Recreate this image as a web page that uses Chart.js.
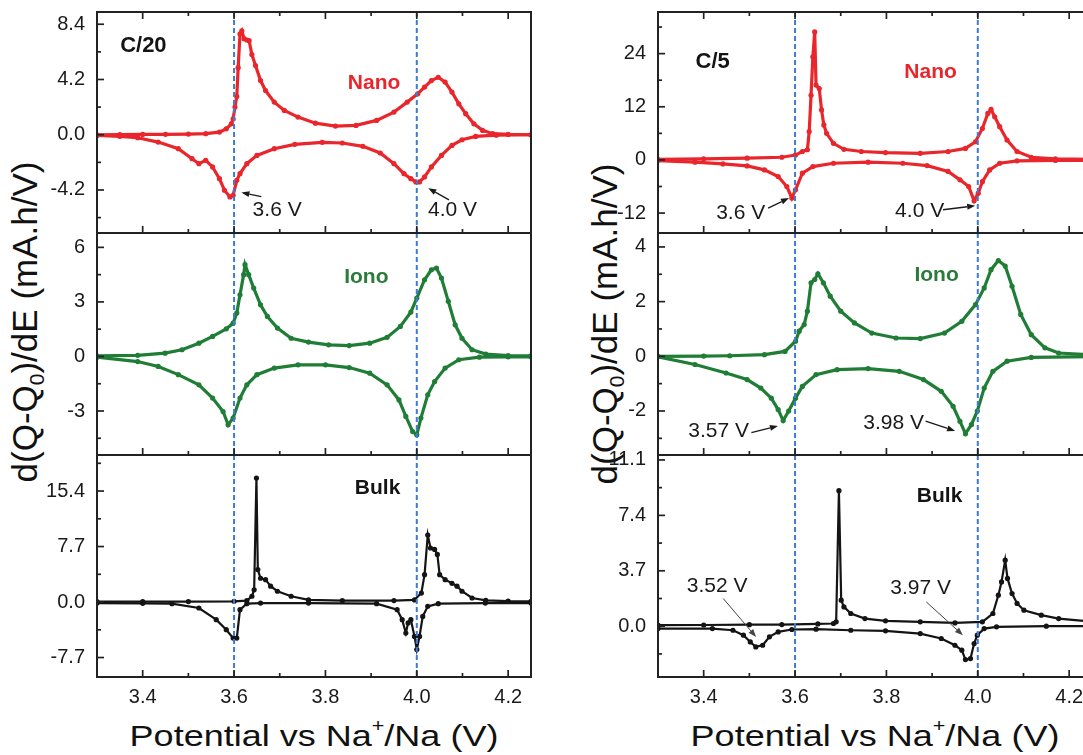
<!DOCTYPE html>
<html><head><meta charset="utf-8">
<script src="https://cdn.jsdelivr.net/npm/chart.js@4.4.1/dist/chart.umd.min.js"></script>
<style>
html,body{margin:0;padding:0;background:#fff;overflow:hidden;width:1083px;height:755px;}
#wrap{position:relative;width:1083px;height:755px;overflow:hidden;font-family:'Liberation Sans',Arial,sans-serif;color:#111;}
canvas{position:absolute;}
.xt{position:absolute;font-size:30px;line-height:30px;white-space:nowrap;transform:translateX(-50%) scaleX(1.2);}
.yt{position:absolute;font-size:35px;line-height:35px;white-space:nowrap;transform:translate(-50%,-50%) rotate(-90deg);}
.xt sup{font-size:0.6em;position:relative;top:-0.8em;vertical-align:baseline;}
.yt sub{font-size:0.6em;position:relative;top:0.35em;vertical-align:baseline;}
</style></head>
<body><div id="wrap">
<div class="yt" style="left:27px;top:322px">d(Q-Q<sub>0</sub>)/dE (mA.h/V)</div>
<div class="yt" style="left:607px;top:324px">d(Q-Q<sub>0</sub>)/dE (mA.h/V)</div>
<div class="xt" style="left:314px;top:721px">Potential vs Na<sup>+</sup>/Na (V)</div>
<div class="xt" style="left:875px;top:721px">Potential vs Na<sup>+</sup>/Na (V)</div>
</div>
<script>
// ---------------- data ----------------
const X_TICKS = [3.4, 3.6, 3.8, 4.0, 4.2];
const X_TICK_LABELS = ['3.4', '3.6', '3.8', '4.0', '4.2'];
const X_MINOR = [3.5, 3.7, 3.9, 4.1];
const X_RANGE = [3.30, 4.25];
const MARK_V = [3.6, 4.0];

// C/20 Nano
const nano20ChgV = [3.30,3.35,3.40,3.45,3.50,3.538,3.568,3.583,3.594,3.598,3.602,3.606,3.609,3.613,3.617,3.622,3.628,3.633,3.639,3.647,3.658,3.669,3.688,3.710,3.740,3.778,3.822,3.867,3.912,3.950,3.979,4.002,4.017,4.032,4.047,4.062,4.077,4.092,4.107,4.125,4.144,4.166,4.20,4.25];
const nano20ChgI = [0.0,0.01,0.02,0.03,0.05,0.08,0.2,0.45,0.83,1.2,2.1,2.9,5.1,7.66,7.9,7.3,7.2,7.15,6.1,5.26,4.12,3.36,2.48,1.85,1.34,0.88,0.66,0.71,1.09,1.72,2.48,3.11,3.62,4.12,4.37,4.0,3.24,2.35,1.6,0.83,0.33,0.08,0.02,0.0];
const nano20DisV = [3.30,3.35,3.389,3.434,3.478,3.508,3.523,3.538,3.553,3.568,3.579,3.591,3.598,3.606,3.613,3.628,3.650,3.688,3.733,3.793,3.837,3.882,3.920,3.950,3.972,3.987,3.998,4.006,4.017,4.032,4.054,4.077,4.099,4.129,4.174,4.25];
const nano20DisI = [-0.05,-0.12,-0.23,-0.56,-1.06,-1.82,-2.2,-1.95,-2.45,-3.34,-4.22,-4.73,-4.6,-3.46,-2.96,-2.2,-1.57,-1.06,-0.73,-0.58,-0.63,-0.88,-1.39,-2.2,-2.96,-3.34,-3.59,-3.59,-3.21,-2.45,-1.57,-0.81,-0.38,-0.13,-0.03,0.0];
// C/20 Iono
const iono20ChgV = [3.30,3.389,3.449,3.486,3.523,3.553,3.583,3.598,3.606,3.613,3.621,3.624,3.632,3.643,3.658,3.673,3.695,3.725,3.763,3.807,3.852,3.897,3.935,3.964,3.987,4.000,4.017,4.032,4.043,4.054,4.069,4.084,4.099,4.121,4.151,4.20,4.25];
const iono20ChgI = [0.04,0.06,0.18,0.37,0.73,1.1,1.52,1.83,2.39,3.39,4.5,5.05,4.5,3.76,2.84,2.2,1.56,1.0,0.79,0.64,0.6,0.73,1.05,1.65,2.44,3.21,4.22,4.77,4.86,4.31,3.03,1.74,1.0,0.37,0.13,0.05,0.04];
const iono20DisV = [3.30,3.389,3.434,3.478,3.523,3.553,3.576,3.587,3.598,3.613,3.628,3.650,3.688,3.740,3.800,3.852,3.897,3.935,3.961,3.976,3.991,4.000,4.009,4.024,4.039,4.062,4.092,4.137,4.20,4.25];
const iono20DisI = [-0.04,-0.28,-0.55,-1.0,-1.56,-2.29,-3.03,-3.76,-3.39,-2.29,-1.56,-1.0,-0.64,-0.46,-0.46,-0.61,-0.92,-1.56,-2.39,-3.3,-4.13,-4.31,-3.39,-2.11,-1.38,-0.64,-0.18,-0.04,-0.02,-0.02];
// C/20 Bulk
const bulk20ChgV = [3.30,3.40,3.50,3.60,3.628,3.639,3.644,3.649,3.652,3.658,3.669,3.680,3.695,3.725,3.763,3.837,3.950,3.995,4.010,4.017,4.024,4.030,4.039,4.045,4.050,4.062,4.077,4.088,4.099,4.121,4.151,4.20,4.25];
const bulk20ChgI = [0.05,0.05,0.06,0.1,0.2,0.8,1.7,17.2,4.5,3.3,3.1,2.2,1.5,0.8,0.3,0.2,0.2,0.3,1.25,3.8,9.3,7.5,7.3,6.6,3.8,3.1,2.6,2.2,1.5,0.56,0.23,0.12,0.1];
const bulk20DisV = [3.30,3.40,3.464,3.523,3.561,3.583,3.598,3.606,3.613,3.628,3.658,3.763,3.912,3.957,3.968,3.976,3.981,3.987,3.995,4.000,4.006,4.013,4.024,4.047,4.15,4.25];
const bulk20DisI = [-0.14,-0.18,-0.23,-0.83,-2.45,-3.84,-5.0,-5.0,-1.06,-0.23,-0.14,-0.14,-0.23,-1.06,-2.45,-4.3,-2.9,-2.45,-4.77,-6.6,-4.77,-2.0,-0.6,-0.23,-0.15,-0.14];
// C/5 Nano
const nano5ChgV = [3.30,3.40,3.495,3.571,3.601,3.616,3.627,3.631,3.635,3.639,3.643,3.646,3.653,3.658,3.663,3.669,3.684,3.707,3.745,3.798,3.874,3.935,3.973,3.995,4.010,4.022,4.029,4.037,4.048,4.064,4.086,4.117,4.17,4.25];
const nano5ChgI = [0.15,0.25,0.4,0.6,1.1,1.9,2.3,6.4,14.6,23.3,28.9,16.9,16.1,11.3,7.9,6.0,3.75,2.4,1.9,1.65,1.5,1.9,2.6,4.1,7.1,10.5,11.4,9.75,7.5,4.5,1.9,0.6,0.25,0.15];
const nano5DisV = [3.30,3.381,3.442,3.495,3.533,3.563,3.582,3.593,3.601,3.616,3.639,3.684,3.760,3.836,3.889,3.935,3.961,3.980,3.992,4.001,4.010,4.026,4.048,4.086,4.17,4.25];
const nano5DisI = [-0.15,-0.5,-0.9,-1.35,-2.25,-3.75,-6.0,-8.6,-6.75,-3.0,-1.5,-0.75,-0.5,-0.75,-1.28,-2.6,-4.5,-6.0,-9.2,-7.5,-4.9,-2.25,-0.75,-0.2,-0.12,-0.1];
// C/5 Iono
const iono5ChgV = [3.30,3.40,3.457,3.533,3.578,3.601,3.609,3.620,3.627,3.635,3.643,3.650,3.662,3.677,3.700,3.730,3.768,3.821,3.874,3.927,3.965,3.995,4.014,4.029,4.045,4.060,4.075,4.094,4.117,4.147,4.177,4.25];
const iono5ChgI = [0.0,0.01,0.02,0.06,0.18,0.55,0.92,1.16,1.65,2.69,2.81,3.02,2.69,2.2,1.65,1.22,0.85,0.67,0.65,0.85,1.28,1.89,2.5,3.17,3.5,3.3,2.56,1.53,0.79,0.31,0.12,0.05];
const iono5DisV = [3.30,3.381,3.449,3.495,3.525,3.548,3.563,3.574,3.586,3.601,3.616,3.646,3.692,3.760,3.828,3.881,3.920,3.946,3.961,3.973,3.986,3.999,4.014,4.033,4.064,4.117,4.25];
const iono5DisI = [-0.02,-0.3,-0.61,-0.85,-1.16,-1.53,-1.95,-2.35,-2.0,-1.53,-1.1,-0.67,-0.49,-0.45,-0.55,-0.85,-1.28,-1.83,-2.38,-2.83,-2.5,-2.0,-1.16,-0.55,-0.18,-0.04,-0.01];
// C/5 Bulk
const bulk5ChgV = [3.30,3.40,3.50,3.571,3.65,3.684,3.690,3.696,3.701,3.707,3.722,3.753,3.798,3.874,3.950,4.010,4.033,4.045,4.052,4.060,4.065,4.075,4.086,4.101,4.139,4.177,4.25];
const bulk5ChgI = [0.07,0.08,0.1,0.11,0.15,0.18,0.29,9.05,1.74,1.29,0.85,0.51,0.36,0.29,0.22,0.29,0.85,2.07,2.96,4.41,3.19,2.18,1.52,1.07,0.74,0.51,0.3];
const bulk5DisV = [3.30,3.419,3.464,3.487,3.502,3.514,3.529,3.544,3.563,3.593,3.646,3.722,3.798,3.874,3.920,3.950,3.965,3.973,3.984,3.992,3.999,4.014,4.041,4.15,4.25];
const bulk5DisI = [-0.16,-0.16,-0.27,-0.6,-1.05,-1.38,-1.27,-0.71,-0.38,-0.22,-0.2,-0.27,-0.31,-0.49,-0.82,-1.27,-1.6,-2.23,-2.16,-1.16,-0.6,-0.16,-0.04,0.0,0.0];

// y ticks
const yTicksNano20 = [-4.2, 0, 4.2, 8.4], yLabelsNano20 = ['-4.2', '0.0', '4.2', '8.4'], yMinorNano20 = [-6.3, -2.1, 2.1, 6.3];
const yTicksIono20 = [-3, 0, 3, 6], yLabelsIono20 = ['-3', '0', '3', '6'], yMinorIono20 = [-4.5, -1.5, 1.5, 4.5];
const yTicksBulk20 = [-7.7, 0, 7.7, 15.4], yLabelsBulk20 = ['-7.7', '0.0', '7.7', '15.4'], yMinorBulk20 = [-3.85, 3.85, 11.55, 19.25];
const yTicksNano5 = [-12, 0, 12, 24], yLabelsNano5 = ['-12', '0', '12', '24'], yMinorNano5 = [-6, 6, 18, 30];
const yTicksIono5 = [-2, 0, 2, 4], yLabelsIono5 = ['-2', '0', '2', '4'], yMinorIono5 = [-3, -1, 1, 3];
const yTicksBulk5 = [0, 3.7, 7.4, 11.1], yLabelsBulk5 = ['0.0', '3.7', '7.4', '11.1'], yMinorBulk5 = [-1.85, 1.85, 5.55, 9.25];

// ---------------- styles / layout ----------------
const FONT = "'Liberation Sans', Arial, sans-serif";
const RED = '#e8262b', GREEN = '#1f7d35', BLACK = '#141414';
const DASH_COLOR = '#3d7bd6', AX_COLOR = '#222';
const COLS = [{x0: 30, left: 97, right: 531}, {x0: 600, left: 658, right: 1092}];
const ROWS = [{top: 12, bottom: 233}, {top: 233, bottom: 455}, {top: 455, bottom: 677}];
const PAD = 30, XAX_H = 45;

const lbl = (text, x, y, color, bold, size) => ({text, x, y, color, bold, size});
const PANELS = [
  {col: 0, row: 0, color: RED, lw: 3.2, chg: [nano20ChgV, nano20ChgI], dis: [nano20DisV, nano20DisI], yr: [-7.47, 9.33],
   yt: yTicksNano20, yl: yLabelsNano20, ym: yMinorNano20, top: true,
   texts: [lbl('C/20', 3.4015, 6.74, BLACK, true, 22), lbl('Nano', 3.9066, 3.90, RED, true, 21),
           lbl('3.6 V', 3.6943, -5.70, '#1a1a1a', false, 21), lbl('4.0 V', 4.0783, -5.70, '#1a1a1a', false, 21)],
   arrows: [[3.6597, -4.70, 3.616, -4.39], [4.0705, -4.95, 4.0252, -4.06]]},
  {col: 0, row: 1, color: GREEN, lw: 3.2, chg: [iono20ChgV, iono20ChgI], dis: [iono20DisV, iono20DisI], yr: [-5.42, 6.79],
   yt: yTicksIono20, yl: yLabelsIono20, ym: yMinorIono20,
   texts: [lbl('Iono', 3.8895, 4.36, '#2b7b3b', true, 21)], arrows: []},
  {col: 0, row: 2, color: BLACK, lw: 2.2, chg: [bulk20ChgV, bulk20ChgI], dis: [bulk20DisV, bulk20DisI], yr: [-10.4, 20.4],
   yt: yTicksBulk20, yl: yLabelsBulk20, ym: yMinorBulk20,
   texts: [lbl('Bulk', 3.9142, 15.81, BLACK, true, 21)], arrows: []},
  {col: 1, row: 0, color: RED, lw: 3.2, chg: [nano5ChgV, nano5ChgI], dis: [nano5DisV, nano5DisI], yr: [-16.5, 33.4],
   yt: yTicksNano5, yl: yLabelsNano5, ym: yMinorNano5, top: true,
   texts: [lbl('C/5', 3.4197, 22.14, BLACK, true, 22), lbl('Nano', 3.8967, 19.89, RED, true, 21),
           lbl('3.6 V', 3.481, -11.93, '#1a1a1a', false, 21), lbl('4.0 V', 3.8727, -11.48, '#1a1a1a', false, 21)],
   arrows: [[3.5411, -10.87, 3.5866, -8.62], [3.9239, -11.25, 3.9943, -10.35]]},
  {col: 1, row: 1, color: GREEN, lw: 3.2, chg: [iono5ChgV, iono5ChgI], dis: [iono5DisV, iono5DisI], yr: [-3.61, 4.51],
   yt: yTicksIono5, yl: yLabelsIono5, ym: yMinorIono5,
   texts: [lbl('Iono', 3.9098, 2.95, '#2b7b3b', true, 21), lbl('3.57 V', 3.4328, -2.73, '#1a1a1a', false, 21),
           lbl('3.98 V', 3.8158, -2.44, '#1a1a1a', false, 21)],
   arrows: [[3.5044, -2.79, 3.5626, -2.55], [3.8858, -2.37, 3.9503, -2.73]]},
  {col: 1, row: 2, color: BLACK, lw: 2.2, chg: [bulk5ChgV, bulk5ChgI], dis: [bulk5DisV, bulk5DisI], yr: [-3.39, 11.43],
   yt: yTicksBulk5, yl: yLabelsBulk5, ym: yMinorBulk5,
   texts: [lbl('Bulk', 3.9164, 8.69, BLACK, true, 21), lbl('3.52 V', 3.4295, 2.67, '#1a1a1a', false, 21),
           lbl('3.97 V', 3.8748, 2.54, '#1a1a1a', false, 21)],
   arrows: [[3.4427, 1.85, 3.5147, -0.72], [3.8873, 1.62, 3.9674, -0.60]], thinArrows: true}
];

const decor = {
  id: 'decor',
  afterDatasetsDraw(chart, args, o) {
    const {ctx, chartArea: a, scales: {x, y}} = chart;
    ctx.save();
    // reference dashed lines
    ctx.strokeStyle = DASH_COLOR; ctx.lineWidth = 2; ctx.setLineDash([5, 3]);
    MARK_V.forEach(v => { const px = x.getPixelForValue(v); ctx.beginPath(); ctx.moveTo(px, a.top); ctx.lineTo(px, a.bottom); ctx.stroke(); });
    ctx.setLineDash([]);
    // inward ticks
    ctx.strokeStyle = AX_COLOR; ctx.lineWidth = 1.7;
    const seg = (x1, y1, x2, y2) => { ctx.beginPath(); ctx.moveTo(x1, y1); ctx.lineTo(x2, y2); ctx.stroke(); };
    o.yMajor.forEach(v => { const py = y.getPixelForValue(v); seg(a.left, py, a.left + 7, py); });
    o.yMinor.forEach(v => { const py = y.getPixelForValue(v); if (py > a.top + 1 && py < a.bottom - 1) seg(a.left, py, a.left + 4, py); });
    X_TICKS.forEach(v => { const px = x.getPixelForValue(v); seg(px, a.bottom, px, a.bottom - 7); if (o.top) seg(px, a.top, px, a.top + 7); });
    X_MINOR.forEach(v => { const px = x.getPixelForValue(v); seg(px, a.bottom, px, a.bottom - 4); if (o.top) seg(px, a.top, px, a.top + 4); });
    // frame
    ctx.lineWidth = 2; ctx.strokeRect(a.left, a.top, a.right - a.left, a.bottom - a.top);
    // text labels
    ctx.textAlign = 'center'; ctx.textBaseline = 'middle';
    o.texts.forEach(t => {
      ctx.font = (t.bold ? 'bold ' : '') + t.size + 'px ' + FONT;
      ctx.fillStyle = t.color;
      ctx.fillText(t.text, x.getPixelForValue(t.x), y.getPixelForValue(t.y));
    });
    // arrows
    o.arrows.forEach(ar => {
      const x1 = x.getPixelForValue(ar[0]), y1 = y.getPixelForValue(ar[1]);
      const x2 = x.getPixelForValue(ar[2]), y2 = y.getPixelForValue(ar[3]);
      const col = o.thin ? '#444' : '#1a1a1a';
      ctx.strokeStyle = col; ctx.fillStyle = col; ctx.lineWidth = o.thin ? 1 : 1.3;
      const ang = Math.atan2(y2 - y1, x2 - x1), hl = 8, hw = 3;
      const bx = x2 - hl * Math.cos(ang), by = y2 - hl * Math.sin(ang);
      seg(x1, y1, bx, by);
      ctx.beginPath(); ctx.moveTo(x2, y2);
      ctx.lineTo(bx + hw * Math.sin(ang), by - hw * Math.cos(ang));
      ctx.lineTo(bx - hw * Math.sin(ang), by + hw * Math.cos(ang));
      ctx.closePath(); ctx.fill();
    });
    ctx.restore();
  }
};

const mkSet = (arr, color, lw) => ({
  data: arr[0].map((v, i) => ({x: v, y: arr[1][i]})),
  showLine: true, borderColor: color, backgroundColor: color, borderWidth: lw,
  pointRadius: 2.6, pointBorderWidth: 0, pointBackgroundColor: color, pointHoverRadius: 0, tension: 0
});

const wrap = document.getElementById('wrap');
PANELS.forEach(p => {
  const c = COLS[p.col], r = ROWS[p.row], last = p.row === 2;
  const w = c.right - c.x0 + PAD;
  const h = (r.bottom - r.top) + PAD + (last ? XAX_H + 8 : PAD);
  const cv = document.createElement('canvas');
  cv.width = w; cv.height = h;
  cv.style.left = c.x0 + 'px'; cv.style.top = (r.top - PAD) + 'px';
  cv.style.width = w + 'px'; cv.style.height = h + 'px';
  wrap.appendChild(cv);
  const xScale = {
    type: 'linear', min: X_RANGE[0], max: X_RANGE[1], display: last,
    grid: {display: false, drawTicks: false}, border: {display: false},
    afterBuildTicks: s => { s.ticks = X_TICKS.map(v => ({value: v})); },
    ticks: {callback: (v, i) => X_TICK_LABELS[i], font: {family: FONT, size: 20}, color: '#1a1a1a', padding: 8, maxRotation: 0, autoSkip: false}
  };
  if (last) xScale.afterFit = s => { s.height = XAX_H; };
  new Chart(cv, {
    type: 'scatter',
    data: {datasets: [mkSet(p.chg, p.color, p.lw), mkSet(p.dis, p.color, p.lw)]},
    options: {
      responsive: false, animation: false, devicePixelRatio: 1, events: [],
      layout: {padding: {left: 0, top: PAD, right: PAD, bottom: last ? 8 : PAD}},
      plugins: {
        legend: {display: false}, tooltip: {enabled: false},
        decor: {yMajor: p.yt, yMinor: p.ym, top: !!p.top, texts: p.texts, arrows: p.arrows, thin: !!p.thinArrows}
      },
      scales: {
        x: xScale,
        y: {
          type: 'linear', min: p.yr[0], max: p.yr[1],
          grid: {display: false, drawTicks: false}, border: {display: false},
          afterBuildTicks: s => { s.ticks = p.yt.map(v => ({value: v})); },
          ticks: {callback: (v, i) => p.yl[i], font: {family: FONT, size: 20}, color: '#1a1a1a', padding: 12, autoSkip: false},
          afterFit: s => { s.width = c.left - c.x0; }
        }
      }
    },
    plugins: [decor]
  });
});
</script>
</body></html>
